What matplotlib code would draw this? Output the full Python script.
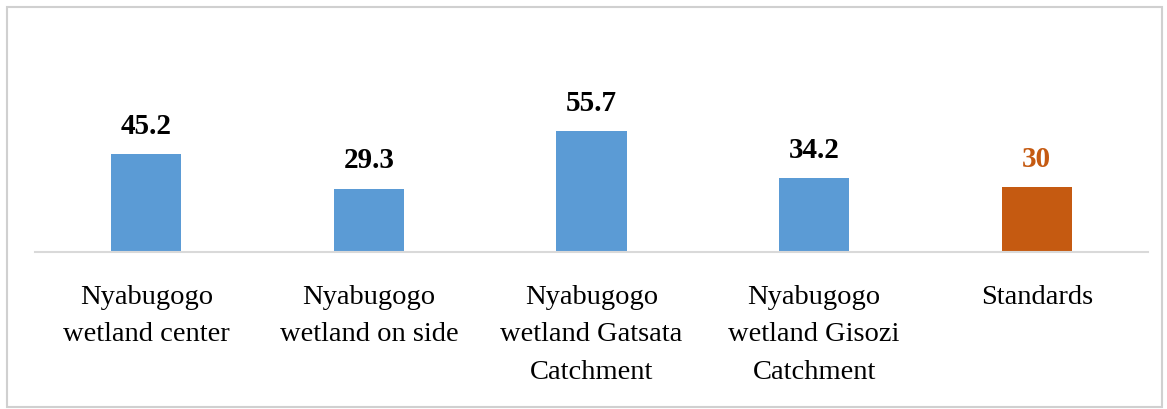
import matplotlib.pyplot as plt
from matplotlib.patches import Rectangle

# -----------------------------------------
# data
# -----------------------------------------
sites = [
    "Nyabugogo\nwetland center",
    "Nyabugogo\nwetland on side",
    "Nyabugogo\nwetland Gatsata\nCatchment",
    "Nyabugogo\nwetland Gisozi\nCatchment",
    "Standards",
]
values = [45.2, 29.3, 55.7, 34.2, 30]
bar_colors = ["#5B9BD5", "#5B9BD5", "#5B9BD5", "#5B9BD5", "#C55A11"]
label_colors = ["black", "black", "black", "black", "#C55A11"]

plt.rcParams["font.family"] = ["Liberation Serif", "DejaVu Serif"]

fig = plt.figure(figsize=(11.67, 4.1), dpi=100)

# light grey frame round the whole chart
fig.patches.append(
    Rectangle((7 / 1167, 2 / 410), 1155 / 1167, 400 / 410,
              transform=fig.transFigure, fill=False,
              edgecolor="#D0D0D0", lw=1.5)
)

ax = fig.add_axes([35 / 1167, 157 / 410, 1113 / 1167, 130 / 410])

x = range(len(sites))
bars = ax.bar(x, values, width=0.315, color=bar_colors)

for bar, v, c in zip(bars, values, label_colors):
    ax.annotate(f"{v:g}", (bar.get_x() + bar.get_width() / 2, v),
                xytext=(0, 11), textcoords="offset points",
                ha="center", va="bottom", fontsize=21, fontweight="bold",
                color=c, annotation_clip=False)

ax.set_xlim(-0.5, len(sites) - 0.5)
ax.set_ylim(0, 60)
ax.set_xticks(list(x))
ax.set_xticklabels(sites, fontsize=20.5, linespacing=1.65, va="top")
ax.tick_params(axis="x", length=0, pad=23)
ax.set_yticks([])

for side in ["top", "right", "left"]:
    ax.spines[side].set_visible(False)
ax.spines["bottom"].set_color("#D9D9D9")
ax.spines["bottom"].set_linewidth(1.5)

fig.savefig("out.png", dpi=100)
